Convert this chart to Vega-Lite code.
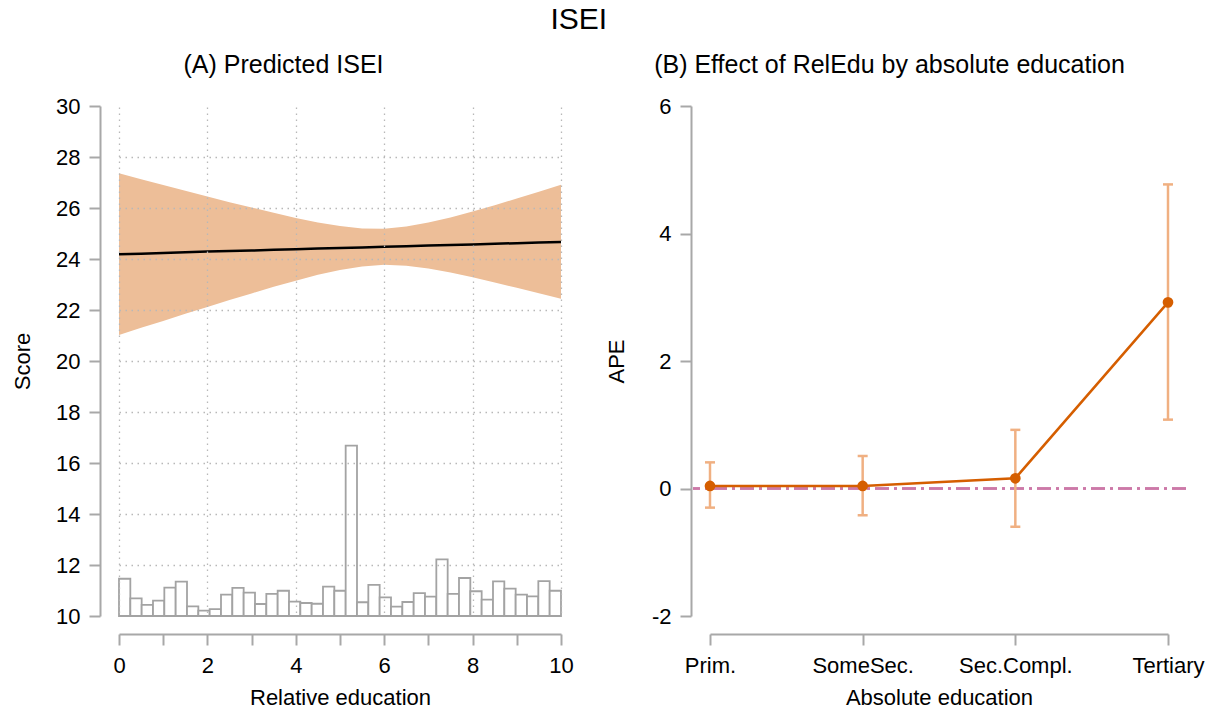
{
  "$schema": "https://vega.github.io/schema/vega-lite/v6.json",
  "background": "white",
  "padding": {"left": 11, "top": 5, "right": 5, "bottom": 5},
  "spacing": 31,
  "title": {"text": "ISEI", "fontSize": 30, "fontWeight": "normal", "anchor": "middle", "dx": -29, "offset": 18, "color": "black", "font": "Liberation Sans"},
  "config": {
    "font": "Liberation Sans",
    "view": {"stroke": null},
    "axis": {
      "domainColor": "#a8a8a8", "domainWidth": 2, "tickColor": "#a8a8a8", "tickWidth": 2, "tickSize": 11,
      "gridColor": "#b8b8b8", "gridDash": [1.5, 4.5], "gridWidth": 1.3,
      "labelFontSize": 22, "titleFontSize": 22, "titleFontWeight": "normal", "labelColor": "black", "titleColor": "black",
      "labelFlush": false, "labelOverlap": false, "labelFont": "Liberation Sans", "titleFont": "Liberation Sans"
    },
    "title": {"font": "Liberation Sans"}
  },
  "datasets": {
    "band": [
      {"x": 0, "lo": 21.02, "hi": 27.36, "fit": 24.19},
      {"x": 0.5, "lo": 21.30, "hi": 27.13, "fit": 24.21},
      {"x": 1, "lo": 21.57, "hi": 26.90, "fit": 24.24},
      {"x": 1.5, "lo": 21.85, "hi": 26.68, "fit": 24.26},
      {"x": 2, "lo": 22.12, "hi": 26.45, "fit": 24.29},
      {"x": 2.5, "lo": 22.39, "hi": 26.23, "fit": 24.31},
      {"x": 3, "lo": 22.65, "hi": 26.02, "fit": 24.33},
      {"x": 3.5, "lo": 22.91, "hi": 25.81, "fit": 24.36},
      {"x": 4, "lo": 23.15, "hi": 25.61, "fit": 24.38},
      {"x": 4.5, "lo": 23.38, "hi": 25.43, "fit": 24.41},
      {"x": 5, "lo": 23.57, "hi": 25.29, "fit": 24.43},
      {"x": 5.5, "lo": 23.71, "hi": 25.20, "fit": 24.45},
      {"x": 6, "lo": 23.77, "hi": 25.19, "fit": 24.48},
      {"x": 6.5, "lo": 23.74, "hi": 25.27, "fit": 24.50},
      {"x": 7, "lo": 23.63, "hi": 25.43, "fit": 24.53},
      {"x": 7.5, "lo": 23.47, "hi": 25.63, "fit": 24.55},
      {"x": 8, "lo": 23.28, "hi": 25.86, "fit": 24.57},
      {"x": 8.5, "lo": 23.08, "hi": 26.11, "fit": 24.60},
      {"x": 9, "lo": 22.87, "hi": 26.37, "fit": 24.62},
      {"x": 9.5, "lo": 22.66, "hi": 26.64, "fit": 24.65},
      {"x": 10, "lo": 22.44, "hi": 26.91, "fit": 24.67}
    ],
    "hist": [
      {"lo": 0, "hi": 0.2564, "top": 11.46},
      {"lo": 0.2564, "hi": 0.5128, "top": 10.69},
      {"lo": 0.5128, "hi": 0.7692, "top": 10.44},
      {"lo": 0.7692, "hi": 1.0256, "top": 10.60},
      {"lo": 1.0256, "hi": 1.2821, "top": 11.11},
      {"lo": 1.2821, "hi": 1.5385, "top": 11.35},
      {"lo": 1.5385, "hi": 1.7949, "top": 10.38},
      {"lo": 1.7949, "hi": 2.0513, "top": 10.21},
      {"lo": 2.0513, "hi": 2.3077, "top": 10.27},
      {"lo": 2.3077, "hi": 2.5641, "top": 10.84},
      {"lo": 2.5641, "hi": 2.8205, "top": 11.10},
      {"lo": 2.8205, "hi": 3.0769, "top": 10.92},
      {"lo": 3.0769, "hi": 3.3333, "top": 10.47},
      {"lo": 3.3333, "hi": 3.5897, "top": 10.87},
      {"lo": 3.5897, "hi": 3.8462, "top": 10.99},
      {"lo": 3.8462, "hi": 4.1026, "top": 10.56},
      {"lo": 4.1026, "hi": 4.3590, "top": 10.51},
      {"lo": 4.3590, "hi": 4.6154, "top": 10.48},
      {"lo": 4.6154, "hi": 4.8718, "top": 11.15},
      {"lo": 4.8718, "hi": 5.1282, "top": 10.99},
      {"lo": 5.1282, "hi": 5.3846, "top": 16.68},
      {"lo": 5.3846, "hi": 5.6410, "top": 10.54},
      {"lo": 5.6410, "hi": 5.8974, "top": 11.22},
      {"lo": 5.8974, "hi": 6.1538, "top": 10.73},
      {"lo": 6.1538, "hi": 6.4103, "top": 10.37},
      {"lo": 6.4103, "hi": 6.6667, "top": 10.55},
      {"lo": 6.6667, "hi": 6.9231, "top": 10.90},
      {"lo": 6.9231, "hi": 7.1795, "top": 10.76},
      {"lo": 7.1795, "hi": 7.4359, "top": 12.22},
      {"lo": 7.4359, "hi": 7.6923, "top": 10.87},
      {"lo": 7.6923, "hi": 7.9487, "top": 11.49},
      {"lo": 7.9487, "hi": 8.2051, "top": 10.97},
      {"lo": 8.2051, "hi": 8.4615, "top": 10.64},
      {"lo": 8.4615, "hi": 8.7179, "top": 11.36},
      {"lo": 8.7179, "hi": 8.9744, "top": 11.07},
      {"lo": 8.9744, "hi": 9.2308, "top": 10.84},
      {"lo": 9.2308, "hi": 9.4872, "top": 10.77},
      {"lo": 9.4872, "hi": 9.7436, "top": 11.37},
      {"lo": 9.7436, "hi": 10, "top": 10.99}
    ],
    "ape": [
      {"edu": "Prim.", "ape": 0.04, "lo": -0.30, "hi": 0.41},
      {"edu": "SomeSec.", "ape": 0.04, "lo": -0.42, "hi": 0.51},
      {"edu": "Sec.Compl.", "ape": 0.16, "lo": -0.60, "hi": 0.92},
      {"edu": "Tertiary", "ape": 2.92, "lo": 1.08, "hi": 4.77}
    ]
  },
  "hconcat": [
    {
      "width": 469,
      "height": 539,
      "title": {"text": "(A) Predicted ISEI", "fontSize": 25, "fontWeight": "normal", "anchor": "middle", "dx": -53, "offset": -6, "baseline": "alphabetic", "color": "black"},
      "layer": [
        {
          "data": {"name": "band"},
          "mark": {"type": "area", "color": "#EDBE98", "opacity": 1},
          "encoding": {
            "x": {"field": "x", "type": "quantitative",
              "scale": {"domain": [0, 10], "range": [17, 459]},
              "axis": {"title": "Relative education", "values": [0,1,2,3,4,5,6,7,8,9,10], "labelExpr": "datum.value % 2 == 0 ? datum.label : ''",
                "gridOpacity": {"condition": {"test": "datum.value % 2 == 1", "value": 0}, "value": 1},
                "offset": 3, "labelPadding": 10, "titlePadding": 11, "zindex": 1}},
            "y": {"field": "lo", "type": "quantitative",
              "scale": {"domain": [10, 30], "range": [524, 14]},
              "axis": {"title": "Score", "values": [10,12,14,16,18,20,22,24,26,28,30],
                "gridOpacity": {"condition": {"test": "datum.value == 10 || datum.value == 30", "value": 0}, "value": 1},
                "offset": 2, "labelPadding": 9, "titlePadding": 21, "zindex": 1}},
            "y2": {"field": "hi"}
          }
        },
        {
          "data": {"name": "hist"},
          "mark": {"type": "bar", "fill": "white", "stroke": "#a3a3a3", "strokeWidth": 1.8},
          "encoding": {
            "x": {"field": "lo", "type": "quantitative"},
            "x2": {"field": "hi"},
            "y": {"field": "top", "type": "quantitative"},
            "y2": {"datum": 10}
          }
        },
        {
          "data": {"name": "band"},
          "mark": {"type": "line", "color": "black", "strokeWidth": 2.5},
          "encoding": {
            "x": {"field": "x", "type": "quantitative"},
            "y": {"field": "fit", "type": "quantitative"}
          }
        }
      ]
    },
    {
      "width": 493,
      "height": 539,
      "title": {"text": "(B) Effect of RelEdu by absolute education", "fontSize": 25, "fontWeight": "normal", "anchor": "middle", "dx": -50, "offset": -6, "baseline": "alphabetic", "color": "black"},
      "data": {"name": "ape"},
      "encoding": {
        "x": {"field": "edu", "type": "ordinal", "sort": null,
          "scale": {"type": "point", "range": [17, 475], "padding": 0},
          "axis": {"title": "Absolute education", "labelAngle": 0, "offset": 3, "labelPadding": 10, "titlePadding": 11}}
      },
      "layer": [
        {
          "mark": {"type": "rule", "color": "#CC79A7", "strokeWidth": 2, "strokeDash": [14, 5, 3, 5]},
          "encoding": {"x": null, "y": {"datum": 0, "type": "quantitative"}}
        },
        {
          "mark": {"type": "rule", "color": "#F0B082", "strokeWidth": 2.5},
          "encoding": {
            "y": {"field": "lo", "type": "quantitative",
              "scale": {"domain": [-2, 6], "range": [524, 14]},
              "axis": {"title": "APE", "values": [-2, 0, 2, 4, 6], "labelExpr": "'' + datum.value",
                "gridOpacity": {"condition": {"test": "datum.value == -2", "value": 0}, "value": 1},
                "offset": 2, "labelPadding": 9, "titlePadding": 23}},
            "y2": {"field": "hi"}
          }
        },
        {
          "mark": {"type": "tick", "color": "#F0B082", "size": 10, "thickness": 2.5, "orient": "horizontal", "opacity": 1},
          "encoding": {"y": {"field": "lo", "type": "quantitative"}}
        },
        {
          "mark": {"type": "tick", "color": "#F0B082", "size": 10, "thickness": 2.5, "orient": "horizontal", "opacity": 1},
          "encoding": {"y": {"field": "hi", "type": "quantitative"}}
        },
        {
          "mark": {"type": "line", "color": "#D55E00", "strokeWidth": 2.5},
          "encoding": {"y": {"field": "ape", "type": "quantitative"}}
        },
        {
          "mark": {"type": "point", "filled": true, "color": "#D55E00", "size": 115, "opacity": 1},
          "encoding": {"y": {"field": "ape", "type": "quantitative"}}
        }
      ]
    }
  ]
}
